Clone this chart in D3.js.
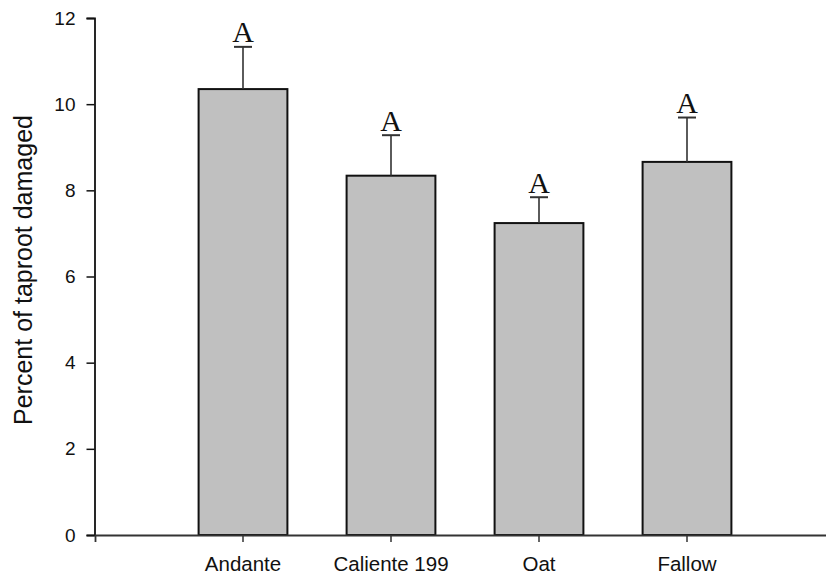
<!DOCTYPE html>
<html>
<head>
<meta charset="utf-8">
<script src="https://cdn.jsdelivr.net/npm/d3@7"></script>
<style>
  html, body { margin: 0; padding: 0; background: #fff; }
  svg { display: block; }
</style>
</head>
<body>
<svg id="chart" width="826" height="580"></svg>
<script>
// Taproot damage by cover treatment: mean ± standard error
const categories = ["Andante", "Caliente 199", "Oat", "Fallow"];
const means = [10.35, 8.34, 7.24, 8.66];
const stdErrors = [0.98, 0.94, 0.60, 1.03];
const groupLetters = ["A", "A", "A", "A"];
const yTicks = [0, 2, 4, 6, 8, 10, 12];
const yLabel = "Percent of taproot damaged";

const svg = d3.select("#chart");

const y = d3.scaleLinear().domain([0, 12]).range([535, 18]);
const x = d3.scaleBand()
  .domain(categories)
  .range([95, 835])
  .paddingInner(0.4)
  .paddingOuter(0.7);

const rows = categories.map((c, i) => ({
  cat: c, mean: means[i], se: stdErrors[i], letter: groupLetters[i]
}));

// Bars
svg.append("g").selectAll("rect")
  .data(rows)
  .join("rect")
  .attr("x", d => x(d.cat))
  .attr("y", d => y(d.mean))
  .attr("width", x.bandwidth())
  .attr("height", d => y(0) - y(d.mean))
  .attr("fill", "#c0c0c0")
  .attr("stroke", "#111")
  .attr("stroke-width", 2);

// Upper error bars
const eb = svg.append("g");
eb.selectAll("line.stem")
  .data(rows)
  .join("line")
  .attr("class", "stem")
  .attr("x1", d => x(d.cat) + x.bandwidth() / 2)
  .attr("x2", d => x(d.cat) + x.bandwidth() / 2)
  .attr("y1", d => y(d.mean))
  .attr("y2", d => y(d.mean + d.se))
  .attr("stroke", "#333")
  .attr("stroke-width", 1.6);
eb.selectAll("line.cap")
  .data(rows)
  .join("line")
  .attr("class", "cap")
  .attr("x1", d => x(d.cat) + x.bandwidth() / 2 - 9)
  .attr("x2", d => x(d.cat) + x.bandwidth() / 2 + 9)
  .attr("y1", d => y(d.mean + d.se))
  .attr("y2", d => y(d.mean + d.se))
  .attr("stroke", "#333")
  .attr("stroke-width", 2);

// Significance letters
svg.append("g").selectAll("text")
  .data(rows)
  .join("text")
  .attr("x", d => x(d.cat) + x.bandwidth() / 2)
  .attr("y", d => y(d.mean + d.se) - 4.5)
  .attr("text-anchor", "middle")
  .attr("font-family", "'Liberation Serif', 'Times New Roman', serif")
  .attr("font-size", 30)
  .attr("fill", "#111")
  .text(d => d.letter);

// Y axis
const yAxis = svg.append("g")
  .attr("transform", "translate(94.5,0)")
  .call(d3.axisLeft(y).tickValues(yTicks).tickSizeOuter(0).tickSize(8).tickPadding(11).tickFormat(d3.format("d")));
yAxis.select(".domain").attr("stroke", "#111").attr("stroke-width", 1.8);
yAxis.selectAll(".tick line").attr("stroke", "#111").attr("stroke-width", 1.5);
yAxis.selectAll(".tick text")
  .attr("font-family", "'Liberation Sans', Arial, sans-serif")
  .attr("font-size", 19)
  .attr("fill", "#111");

// X axis
const xAxis = svg.append("g")
  .attr("transform", "translate(0,535)")
  .call(d3.axisBottom(x).tickSizeOuter(0).tickSize(7).tickPadding(14));
xAxis.select(".domain").attr("stroke", "#333").attr("stroke-width", 1.8);
xAxis.selectAll(".tick line").attr("stroke", "#333").attr("stroke-width", 1.5);
xAxis.selectAll(".tick text")
  .attr("font-family", "'Liberation Sans', Arial, sans-serif")
  .attr("font-size", 20.5)
  .attr("fill", "#111");

// Y axis title
svg.append("text")
  .attr("transform", "translate(32,270) rotate(-90)")
  .attr("text-anchor", "middle")
  .attr("font-family", "'Liberation Sans', Arial, sans-serif")
  .attr("font-size", 25)
  .attr("fill", "#111")
  .text(yLabel);
</script>
</body>
</html>
